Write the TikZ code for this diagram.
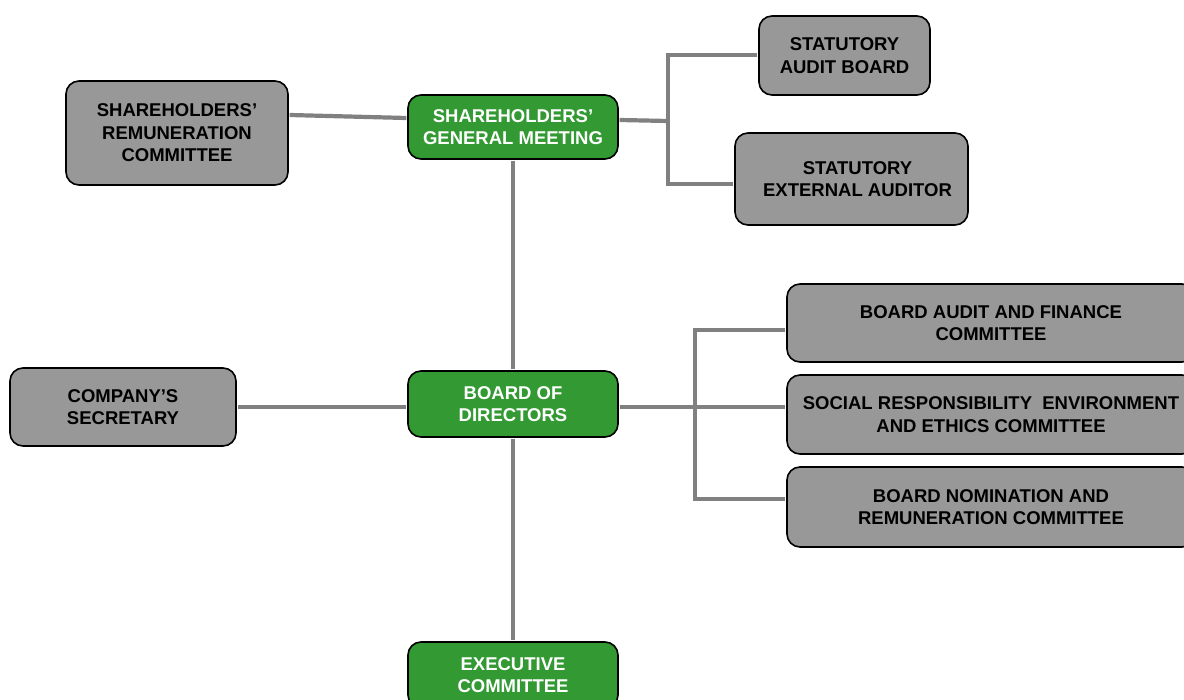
\documentclass[tikz,border=0pt]{standalone}
\usepackage{fontspec}
\setmainfont{Liberation Sans}
\usetikzlibrary{calc}
\definecolor{boxgray}{HTML}{989898}
\definecolor{boxgreen}{HTML}{339933}
\definecolor{linegray}{HTML}{808080}
\tikzset{
  box/.style={draw=black, line width=1.6pt, rounded corners=13pt, align=center,
    font=\fontsize{18.5}{22.5}\selectfont\bfseries, inner sep=0pt},
  graybox/.style={box, fill=boxgray, text=black},
  greenbox/.style={box, fill=boxgreen, text=white},
  conn/.style={draw=linegray, line width=4.2pt}
}
\begin{document}
\begin{tikzpicture}[x=1pt,y=-1pt]
\useasboundingbox (0,0) rectangle (1184,700);
\clip (0,0) rectangle (1184,700);
\fill[white] (0,0) rectangle (1184,700);

% coordinates for connectors
\coordinate (j1) at (668,121);
\coordinate (j1t) at (668,55);
\coordinate (j1b) at (668,184);
\coordinate (j2) at (695,407);
\coordinate (j2t) at (695,330);
\coordinate (j2b) at (695,499);

% nodes
\node[graybox, minimum width=222pt, minimum height=104pt] (rem) at (177,133) {SHAREHOLDERS'\\REMUNERATION\\COMMITTEE};
\node[greenbox, minimum width=210pt, minimum height=64pt] (sgm) at (513,127) {SHAREHOLDERS'\\GENERAL MEETING};
\node[graybox, minimum width=171pt, minimum height=79pt] (sab) at (844.5,55.5) {STATUTORY\\AUDIT BOARD};
\node[graybox, minimum width=233pt, minimum height=92pt] (sea) at (851.5,179) {\hspace*{12pt}STATUTORY\\\hspace*{12pt}EXTERNAL AUDITOR};
\node[graybox, minimum width=408pt, minimum height=78pt] (baf) at (991,323) {BOARD AUDIT AND FINANCE\\COMMITTEE};
\node[graybox, minimum width=408pt, minimum height=79pt] (sre) at (991,414.5) {SOCIAL RESPONSIBILITY\ \ ENVIRONMENT\\AND ETHICS COMMITTEE};
\node[graybox, minimum width=408pt, minimum height=80pt] (bnr) at (991,507) {BOARD NOMINATION AND\\REMUNERATION COMMITTEE};
\node[graybox, minimum width=226pt, minimum height=78pt] (sec) at (123,407) {COMPANY'S\\SECRETARY};
\node[greenbox, minimum width=210pt, minimum height=66pt] (bod) at (513,404) {BOARD OF\\DIRECTORS};
\node[greenbox, minimum width=210pt, minimum height=66pt] (exe) at (513,675) {EXECUTIVE\\COMMITTEE};

% connectors (drawn from node borders)
\draw[conn] ([yshift=18pt,xshift=0.8pt]rem.east) -- ([yshift=9pt,xshift=-0.8pt]sgm.west);
\draw[conn] ([yshift=7pt,xshift=0.8pt]sgm.east) -- (j1);
\draw[conn] ([xshift=-0.8pt]sab.west |- j1t) -- (j1t) -- (j1b) -- ([xshift=-0.8pt]sea.west |- j1b);
\draw[conn] ([yshift=-0.8pt]sgm.south) -- ([yshift=0.8pt]bod.north);
\draw[conn] ([yshift=-0.8pt]bod.south) -- ([yshift=0.8pt]exe.north);
\draw[conn] ([xshift=0.8pt]sec.east) -- ([xshift=-0.8pt]bod.west |- sec.east);
\draw[conn] ([xshift=0.8pt]bod.east |- j2) -- ([xshift=-0.8pt]sre.west |- j2);
\draw[conn] ([xshift=-0.8pt]baf.west |- j2t) -- (j2t) -- (j2b) -- ([xshift=-0.8pt]bnr.west |- j2b);
\end{tikzpicture}
\end{document}
